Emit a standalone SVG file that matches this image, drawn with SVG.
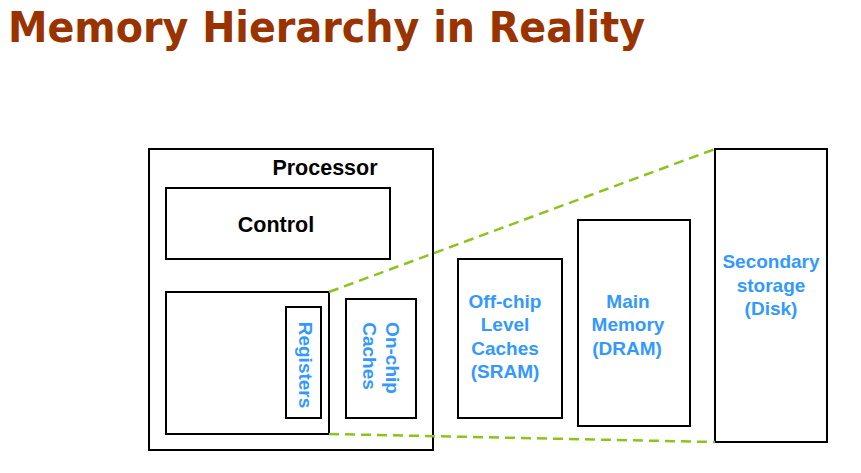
<svg xmlns="http://www.w3.org/2000/svg" width="861" height="473" viewBox="0 0 861 473">
<style>
.box{fill:#fff;stroke:#000;stroke-width:2}
.lbl{font-family:"Liberation Sans",Arial,sans-serif;font-weight:bold;font-size:19px;fill:#3399ff;text-anchor:middle}
.blk{font-family:"Liberation Sans",Arial,sans-serif;font-weight:bold;font-size:21.5px;fill:#000;text-anchor:middle}
.dash{stroke:#8cc41c;stroke-width:2.5;stroke-dasharray:10 6;fill:none}
</style>
<rect width="861" height="473" fill="#fff"/>
<text x="8" y="42" font-family="'DejaVu Sans',Verdana,sans-serif" font-weight="bold" font-size="43" fill="#993300" textLength="637" lengthAdjust="spacingAndGlyphs">Memory Hierarchy in Reality</text>
<g id="processor">
<rect class="box" x="149" y="149" width="284" height="301"/>
<text class="blk" x="325" y="175">Processor</text>
</g>
<g id="control">
<rect class="box" x="166" y="188" width="224" height="71"/>
<text class="blk" x="276" y="232">Control</text>
</g>
<g id="datapath">
<rect class="box" x="166" y="292" width="163" height="142"/>
</g>
<g id="registers">
<rect class="box" x="286" y="307" width="35" height="111"/>
<text class="lbl" transform="translate(299,365) rotate(90)">Registers</text>
</g>
<g id="onchip">
<rect class="box" x="346" y="299" width="70" height="119"/>
<text class="lbl" transform="translate(386,358) rotate(90)">On-chip</text>
<text class="lbl" transform="translate(363,356) rotate(90)">Caches</text>
</g>
<g id="offchip">
<rect class="box" x="458" y="259" width="104" height="159"/>
<text class="lbl" x="505" y="308">Off-chip</text>
<text class="lbl" x="505" y="331">Level</text>
<text class="lbl" x="505" y="355">Caches</text>
<text class="lbl" x="505" y="378">(SRAM)</text>
</g>
<g id="mainmemory">
<rect class="box" x="578" y="220" width="112" height="206"/>
<text class="lbl" x="628" y="308">Main</text>
<text class="lbl" x="628" y="331">Memory</text>
<text class="lbl" x="627" y="355">(DRAM)</text>
</g>
<g id="secondary">
<rect class="box" x="715" y="149" width="112" height="293"/>
<text class="lbl" x="771" y="268">Secondary</text>
<text class="lbl" x="771" y="292">storage</text>
<text class="lbl" x="771" y="315">(Disk)</text>
</g>
<g id="connectors">
<line class="dash" x1="329" y1="292" x2="715" y2="149"/>
<line class="dash" x1="329" y1="434" x2="715" y2="442"/>
</g>
</svg>
